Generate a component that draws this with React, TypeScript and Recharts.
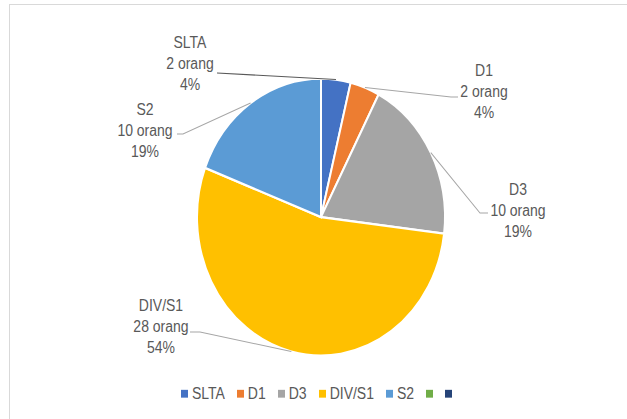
import React from "react";
import { PieChart, Pie, Cell, Legend } from "recharts";

// Pendidikan pegawai (jumlah orang)
const categories = ["SLTA", "D1", "D3", "DIV/S1", "S2", "", ""];
const counts = [2, 2, 10, 28, 10, 0, 0];
const unitLabel = "orang";

const COLORS = ["#4472C4", "#ED7D31", "#A5A5A5", "#FFC000", "#5B9BD5", "#70AD47", "#264478"];

// the source picture is stretched vertically, so the whole chart is too
const SCALE_Y = 1.117;
const W = 627;
const H = 375;
const CX = 321;
const CY = 194.3;
const R = 124;

// label placement relative to the pie centre: text centre, elbow, tail end
const LABEL_LAYOUT = [
  { tx: -131, ty: -137, ex: -104, ey: -129, tail: -104, lineColor: "#595959" },
  { tx: 163, ty: -112, ex: 130, ey: -107.5, tail: 137, lineColor: "#A6A6A6" },
  { tx: 197, ty: -5.4, ex: 159, ey: -3.6, tail: 167, lineColor: "#A6A6A6" },
  { tx: -160, ty: 98.4, ex: -121, ey: 102.9, tail: -131, lineColor: "#A6A6A6" },
  { tx: -176, ty: -77, ex: -138, ey: -74.3, tail: -144, lineColor: "#A6A6A6" },
];

const FONT = "'Liberation Sans', Arial, sans-serif";
const TEXT_COLOR = "#595959";
const LINE_GAP = 18.8;

const total = counts.reduce((a, b) => a + b, 0);
const pieData = categories
  .map((name, i) => ({ name, value: counts[i], color: COLORS[i] }))
  .filter((d) => d.value > 0);

const RAD = Math.PI / 180;

function renderLabel(props: any) {
  const { cx, cy, midAngle, outerRadius, index, name, value } = props;
  const layout = LABEL_LAYOUT[index];
  if (!layout) return null;
  const sx = cx + outerRadius * Math.cos(-midAngle * RAD);
  const sy = cy + outerRadius * Math.sin(-midAngle * RAD);
  const ex = cx + layout.ex;
  const ey = cy + layout.ey;
  const tailX = cx + layout.tail;
  const tx = cx + layout.tx;
  const ty = cy + layout.ty;
  const pct = Math.round((value / total) * 100);
  const lines = [name, `${value} ${unitLabel}`, `${pct}%`];
  return (
    <g key={`label-${index}`}>
      <polyline
        points={`${sx},${sy} ${ex},${ey} ${tailX},${ey}`}
        fill="none"
        stroke={layout.lineColor}
        strokeWidth={1}
      />
      {lines.map((t, i) => (
        <text
          key={i}
          x={tx}
          y={ty + (i - 1) * LINE_GAP}
          textAnchor="middle"
          dominantBaseline="central"
          fill={TEXT_COLOR}
          fontSize={14}
          fontFamily={FONT}
        >
          {t}
        </text>
      ))}
    </g>
  );
}

function renderLegend() {
  return (
    <div
      style={{
        display: "flex",
        justifyContent: "center",
        alignItems: "center",
        paddingLeft: 18,
        fontFamily: FONT,
        fontSize: 14,
        color: TEXT_COLOR,
      }}
    >
      {categories.map((name, i) => (
        <div key={i} style={{ display: "flex", alignItems: "center", marginRight: 12 }}>
          <span
            style={{
              display: "inline-block",
              width: 7,
              height: 7,
              background: COLORS[i],
              marginRight: name ? 4 : 0,
            }}
          />
          {name && <span>{name}</span>}
        </div>
      ))}
    </div>
  );
}

export default function App() {
  return (
    <div
      style={{
        position: "absolute",
        left: 0,
        top: 0,
        width: 627,
        height: 419,
        overflow: "hidden",
        background: "#fff",
      }}
    >
      <div
        style={{
          position: "absolute",
          left: 9,
          top: 4,
          width: 700,
          height: 500,
          border: "1px solid #D9D9D9",
        }}
      />
      <div
        style={{
          position: "absolute",
          left: 0,
          top: 0,
          transform: `scaleY(${SCALE_Y})`,
          transformOrigin: "0 0",
        }}
      >
        <PieChart width={W} height={H} margin={{ top: 0, right: 0, bottom: 0, left: 0 }}>
          <Pie
            data={pieData}
            dataKey="value"
            nameKey="name"
            cx={CX}
            cy={CY}
            outerRadius={R}
            startAngle={90}
            endAngle={-270}
            stroke="#FFFFFF"
            strokeWidth={2}
            label={renderLabel}
            labelLine={false}
            isAnimationActive={false}
          >
            {pieData.map((d, i) => (
              <Cell key={i} fill={d.color} />
            ))}
          </Pie>
          <Legend
            content={renderLegend}
            wrapperStyle={{ position: "absolute", left: 0, top: 344, width: W }}
          />
        </PieChart>
      </div>
    </div>
  );
}
